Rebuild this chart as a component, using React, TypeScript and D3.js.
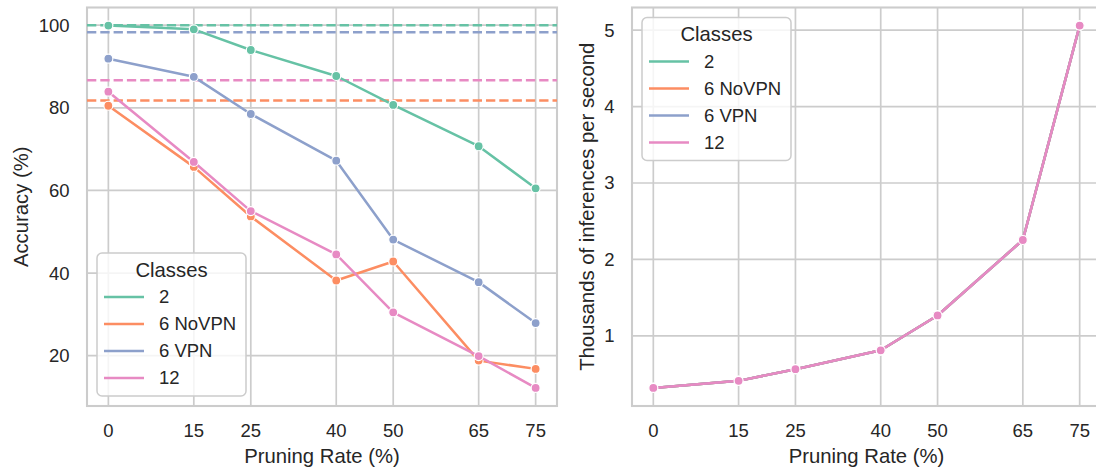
import React from "react";
import * as d3 from "d3";

const pruningRates = [0, 15, 25, 40, 50, 65, 75];
const classNames = ["2", "6 NoVPN", "6 VPN", "12"];
const classColors = ["#66c2a5", "#fc8d62", "#8da0cb", "#e78ac3"];

// Accuracy (%) per class
const acc2 = [99.9, 99.0, 94.0, 87.7, 80.7, 70.7, 60.5];
const accNoVPN = [80.5, 65.7, 53.7, 38.2, 42.8, 18.8, 16.8];
const accVPN = [91.9, 87.5, 78.5, 67.2, 48.1, 37.8, 27.9];
const acc12 = [83.9, 66.9, 55.0, 44.5, 30.5, 19.9, 12.2];

// Baseline (unpruned reference) accuracy per class, dashed lines
const baselineAcc = [100.0, 81.8, 98.3, 86.7];

// Thousands of inferences per second per class
const ips2 = [0.318, 0.41, 0.563, 0.81, 1.266, 2.254, 5.06];
const ipsNoVPN = [0.318, 0.41, 0.563, 0.81, 1.266, 2.254, 5.06];
const ipsVPN = [0.318, 0.41, 0.563, 0.81, 1.266, 2.254, 5.06];
const ips12 = [0.318, 0.41, 0.563, 0.81, 1.266, 2.254, 5.06];

const leftYTicks = [20, 40, 60, 80, 100];
const rightYTicks = [1, 2, 3, 4, 5];

const FONT = "'Liberation Sans', Arial, sans-serif";
const TEXT = "#262626";
const GRID = "#cccccc";

type PanelProps = {
  x0: number;
  x1: number;
  series: number[][];
  yTicks: number[];
  yLabel: string;
  yLabelX: number;
  baselines?: number[];
  legendPos: "lowerleft" | "upperleft";
};

function pad(min: number, max: number): [number, number] {
  const r = max - min;
  return [min - 0.05 * r, max + 0.05 * r];
}

function Panel({ x0, x1, series, yTicks, yLabel, yLabelX, baselines, legendPos }: PanelProps) {
  const top = 7.5;
  const bottom = 406;
  const x = d3.scaleLinear().domain(pad(0, 75)).range([x0, x1]);
  const allVals = series.flat();
  const y = d3
    .scaleLinear()
    .domain(pad(d3.min(allVals) as number, d3.max(allVals) as number))
    .range([bottom, top]);
  const line = d3
    .line<number>()
    .x((_, i) => x(pruningRates[i]))
    .y((d) => y(d));

  const legW = 149;
  const legH = 143;
  const legX = x0 + 10;
  const legY = legendPos === "lowerleft" ? bottom - 10 - legH : top + 10;

  return (
    <g>
      {/* grid */}
      {pruningRates.map((t) => (
        <line key={"gx" + t} x1={x(t)} x2={x(t)} y1={top} y2={bottom} stroke={GRID} strokeWidth={1.7} />
      ))}
      {yTicks.map((t) => (
        <line key={"gy" + t} x1={x0} x2={x1} y1={y(t)} y2={y(t)} stroke={GRID} strokeWidth={1.7} />
      ))}
      {/* spines */}
      <rect x={x0} y={top} width={x1 - x0} height={bottom - top} fill="none" stroke={GRID} strokeWidth={2.1} />
      {/* tick labels */}
      {pruningRates.map((t) => (
        <text key={"tx" + t} x={x(t)} y={437} textAnchor="middle" fontSize={18.5} fill={TEXT} fontFamily={FONT}>
          {t}
        </text>
      ))}
      {yTicks.map((t) => (
        <text key={"ty" + t} x={x0 - 17.5} y={y(t)} dy="0.35em" textAnchor="end" fontSize={18.5} fill={TEXT} fontFamily={FONT}>
          {t}
        </text>
      ))}
      {/* axis labels */}
      <text x={(x0 + x1) / 2} y={463} textAnchor="middle" fontSize={20.3} fill={TEXT} fontFamily={FONT}>
        Pruning Rate (%)
      </text>
      <text
        transform={`translate(${yLabelX},${(top + bottom) / 2}) rotate(-90)`}
        textAnchor="middle"
        fontSize={20.3}
        fill={TEXT}
        fontFamily={FONT}
      >
        {yLabel}
      </text>
      <g>
        {baselines &&
          baselines.map((b, i) => (
            <line
              key={"bl" + i}
              x1={x0}
              x2={x1}
              y1={y(b)}
              y2={y(b)}
              stroke={classColors[i]}
              strokeWidth={2.5}
              strokeDasharray="9.3,4"
            />
          ))}
        {series.map((s, i) => (
          <g key={"s" + i}>
            <path d={line(s) || ""} fill="none" stroke={classColors[i]} strokeWidth={2.5} strokeLinejoin="round" strokeLinecap="round" />
            {s.map((v, j) => (
              <circle key={j} cx={x(pruningRates[j])} cy={y(v)} r={4.5} fill={classColors[i]} stroke="#ffffff" strokeWidth={1.2} />
            ))}
          </g>
        ))}
      </g>
      {/* legend */}
      <g>
        <rect x={legX} y={legY} width={legW} height={legH} rx={5} ry={5} fill="#ffffff" fillOpacity={0.8} stroke={GRID} strokeWidth={1.5} />
        <text x={legX + legW / 2} y={legY + 16.5} dy="0.35em" textAnchor="middle" fontSize={20.3} fill={TEXT} fontFamily={FONT}>
          Classes
        </text>
        {classNames.map((c, i) => {
          const cy = legY + 44 + i * 27;
          return (
            <g key={"lg" + i}>
              <line x1={legX + 7} x2={legX + 47} y1={cy} y2={cy} stroke={classColors[i]} strokeWidth={2.5} />
              <text x={legX + 62} y={cy} dy="0.35em" fontSize={18.5} fill={TEXT} fontFamily={FONT}>
                {c}
              </text>
            </g>
          );
        })}
      </g>
    </g>
  );
}

export default function App() {
  return (
    <svg
      width={1096}
      height={471}
      style={{ position: "absolute", left: 0, top: 0, background: "#ffffff", overflow: "hidden" }}
    >
      <rect x={0} y={0} width={1096} height={471} fill="#ffffff" />
      <Panel
        x0={87}
        x1={557}
        series={[acc2, accNoVPN, accVPN, acc12]}
        yTicks={leftYTicks}
        yLabel="Accuracy (%)"
        yLabelX={28}
        baselines={baselineAcc}
        legendPos="lowerleft"
      />
      <Panel
        x0={632}
        x1={1101}
        series={[ips2, ipsNoVPN, ipsVPN, ips12]}
        yTicks={rightYTicks}
        yLabel="Thousands of inferences per second"
        yLabelX={594}
        legendPos="upperleft"
      />
    </svg>
  );
}
